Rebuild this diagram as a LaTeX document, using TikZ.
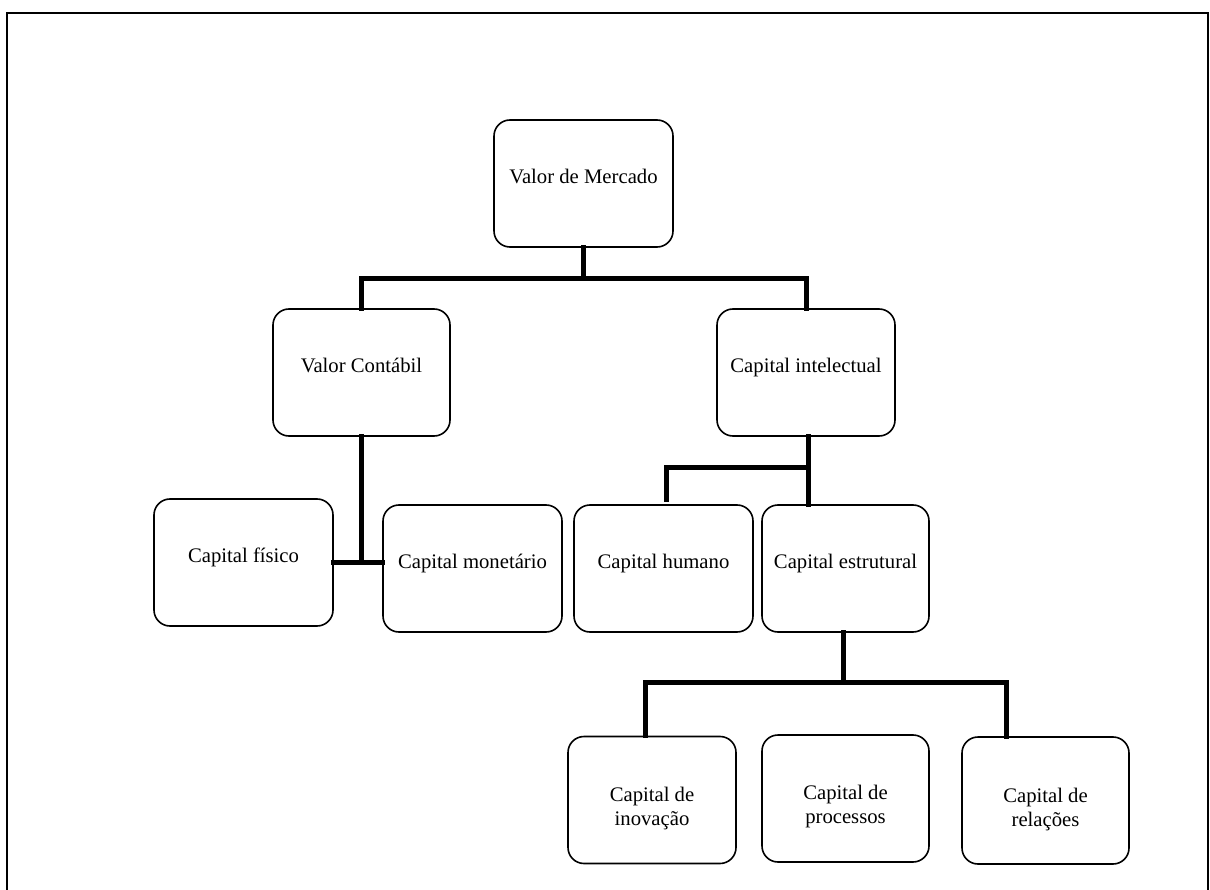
\documentclass[tikz,border=0pt]{standalone}
\usepackage{fontspec}
\setmainfont{Liberation Serif}
\begin{document}
\begin{tikzpicture}[x=1pt,y=-1pt,
  box/.style={draw=black, line width=1.6pt, rounded corners=16pt, minimum height=127pt, inner sep=0pt, align=center, text height=7pt, text depth=7pt, font=\fontsize{20.7}{24}\selectfont},
  lowlab/.style={align=center, font=\fontsize{20.7}{24}\selectfont, inner sep=0pt},
  conn/.style={draw=black, line width=5pt, line join=miter, line cap=rect},
  frame/.style={draw=black, line width=2pt}]
\useasboundingbox (0,0) rectangle (1210,890);
\draw[frame] (7,892) -- (7,13) -- (1208,13) -- (1208,892);

\node[box, minimum width=179pt] (vm)  at (583.5,183.5) {Valor de Mercado};
\node[box, minimum width=177pt] (vc)  at (361.5,372.5) {Valor Contábil};
\node[box, minimum width=178pt] (ci)  at (806,372.5)   {Capital intelectual};
\node[box, minimum width=179pt] (fis) at (243.5,562.5) {Capital físico};
\node[box, minimum width=179pt] (mon) at (472.5,568.5) {Capital monetário};
\node[box, minimum width=179pt] (hum) at (663.5,568.5) {Capital humano};
\node[box, minimum width=167pt] (est) at (845.5,568.5) {Capital estrutural};
\node[box, minimum width=168pt, label={[lowlab, name=inovt, yshift=-9pt]center:Capital de\\inovação}] (inov) at (652,800) {};
\node[box, minimum width=167pt, label={[lowlab, name=proct, yshift=-8pt]center:Capital de\\processos}] (proc) at (845.5,798.5) {};
\node[box, minimum width=167pt, label={[lowlab, name=relt, yshift=-9pt]center:Capital de\\relações}] (rel) at (1045.5,800.5) {};

\coordinate (j1) at (583.5,279);
\coordinate (j2) at (808,467);
\coordinate (j3) at (843,682);
\coordinate (b1) at (645,682);
\coordinate (b2) at (1006,682);

\draw[conn] (vm.south) -- (j1);
\draw[conn] (vc.north) -- (vc.north |- j1) -- (ci.north |- j1) -- (ci.north);
\draw[conn] (vc.south) -- (vc.south |- fis.east);
\draw[conn] (fis.east) -- (mon.west |- fis.east);
\draw[conn] (j2 |- ci.south) -- (j2 |- est.north);
\draw[conn] (j2) -- (666,467) -- ([yshift=5pt]666,505 |- hum.north);
\draw[conn] (j3 |- est.south) -- (j3);
\draw[conn] (b1 |- inov.north) -- (b1) -- (b2) -- (b2 |- rel.north);
\end{tikzpicture}
\end{document}
